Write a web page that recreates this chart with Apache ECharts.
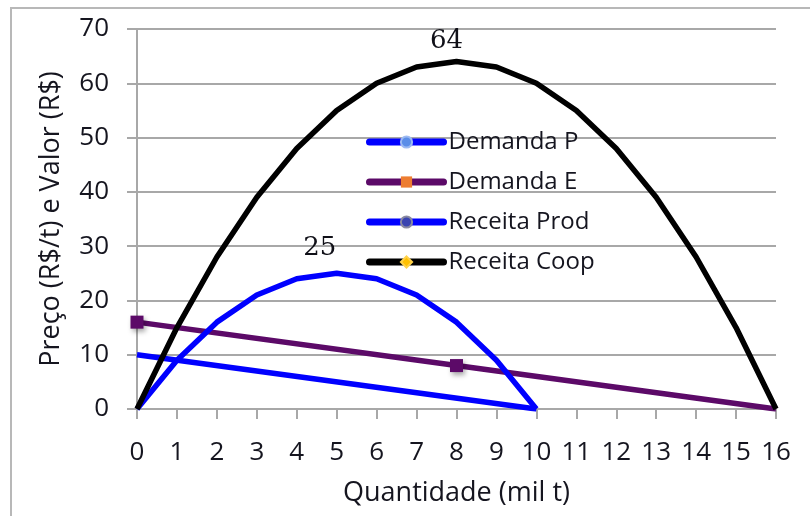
<!DOCTYPE html>
<html><head><meta charset="utf-8">
<script src="https://cdn.jsdelivr.net/npm/echarts@6/dist/echarts.min.js"></script>
<style>html,body{margin:0;padding:0;background:#fff}#c{width:810px;height:516px}</style>
</head><body><div id="c"></div>
<script>
// Data
const demandaP_x = [0, 10];
const demandaP_y = [10, 0];
const demandaE_x = [0, 8, 16];
const demandaE_y = [16, 8, 0];
const demandaE_marked = [true, true, false];
const receitaProd_x = [0, 1, 2, 3, 4, 5, 6, 7, 8, 9, 10];
const receitaProd_y = [0, 9, 16, 21, 24, 25, 24, 21, 16, 9, 0];
const receitaCoop_x = [0, 1, 2, 3, 4, 5, 6, 7, 8, 9, 10, 11, 12, 13, 14, 15, 16];
const receitaCoop_y = [0, 15, 28, 39, 48, 55, 60, 63, 64, 63, 60, 55, 48, 39, 28, 15, 0];
const xTicks = [0, 16, 1];
const yTicks = [0, 70, 10];

const FONT = '"Open Sans", sans-serif';
const TXT = '#15151f';
const GRID = '#a8a8a8';

function pairs(xs, ys) { return xs.map((x, i) => [x, ys[i]]); }
function peakItems(xs, ys, offset) {
  const mx = Math.max(...ys);
  return xs.map((x, i) => {
    if (ys[i] !== mx) return { value: [x, ys[i]], symbol: 'none' };
    return { value: [x, ys[i]], symbol: 'circle', symbolSize: 0.01,
      label: { show: true, formatter: String(ys[i]), position: 'top', distance: 5, offset: offset,
        fontFamily: '"DejaVu Serif", serif', fontSize: 26, color: '#101018' } };
  });
}

const chart = echarts.init(document.getElementById('c'), null, { renderer: 'canvas' });
chart.setOption({
  animation: false,
  backgroundColor: '#fff',
  graphic: [{ type: 'rect', shape: { x: 11, y: 8, width: 830, height: 540 }, style: { fill: 'none', stroke: '#b8b8b8', lineWidth: 2 }, silent: true }],
  grid: { left: 137, right: 34, top: 29, bottom: 107 },
  legend: {
    orient: 'vertical', left: 366, top: 129, padding: 0,
    itemWidth: 74, itemHeight: 14, itemGap: 14,
    lineStyle: { width: 7, cap: 'round' },
    textStyle: { fontFamily: FONT, fontSize: 24, color: TXT, lineHeight: 26 },
    data: ['Demanda P', 'Demanda E', 'Receita Prod', 'Receita Coop']
  },
  xAxis: {
    type: 'value', min: xTicks[0], max: xTicks[1], interval: xTicks[2],
    name: 'Quantidade (mil t)', nameLocation: 'middle', nameGap: 71,
    nameTextStyle: { fontFamily: FONT, fontSize: 27, color: TXT },
    axisLine: { show: true, onZero: false, lineStyle: { color: GRID, width: 2 } },
    axisTick: { show: true, length: 10, lineStyle: { color: GRID, width: 2 } },
    axisLabel: { fontFamily: FONT, fontSize: 26, color: TXT, margin: 31 },
    splitLine: { show: false }
  },
  yAxis: {
    type: 'value', min: yTicks[0], max: yTicks[1], interval: yTicks[2],
    name: 'Preço (R$/t) e Valor (R$)', nameLocation: 'middle', nameGap: 72,
    nameTextStyle: { fontFamily: FONT, fontSize: 27, color: TXT },
    axisLine: { show: true, lineStyle: { color: GRID, width: 2 } },
    axisTick: { show: true, length: 10, lineStyle: { color: GRID, width: 2 } },
    axisLabel: { fontFamily: FONT, fontSize: 26, color: TXT, margin: 28 },
    splitLine: { show: true, lineStyle: { color: GRID, width: 2 } }
  },
  series: [
    { name: 'Demanda P', type: 'line', data: pairs(demandaP_x, demandaP_y), showSymbol: false, symbol: 'circle',
      itemStyle: { color: '#5b8ee8', borderColor: '#9dbaf2', borderWidth: 1.5 },
      lineStyle: { color: '#0000ff', width: 5.5 }, z: 3 },
    { name: 'Demanda E', type: 'line', symbol: 'rect', symbolSize: 13, showSymbol: true,
      data: demandaE_x.map((x, i) => demandaE_marked[i]
        ? { value: [x, demandaE_y[i]], itemStyle: { color: '#5c0a68', shadowBlur: 5, shadowColor: 'rgba(0,0,0,0.35)', shadowOffsetX: 2, shadowOffsetY: 3 } }
        : { value: [x, demandaE_y[i]], symbol: 'none' }),
      itemStyle: { color: '#ed7d31' },
      lineStyle: { color: '#5c0a68', width: 5.5 }, z: 2 },
    { name: 'Receita Prod', type: 'line', data: peakItems(receitaProd_x, receitaProd_y, [-17, -6]), showSymbol: true, symbol: 'circle',
      itemStyle: { color: '#3a44b0', borderColor: '#8a8aa0', borderWidth: 1.5 },
      lineStyle: { color: '#0000ff', width: 5.5 }, z: 4 },
    { name: 'Receita Coop', type: 'line', data: peakItems(receitaCoop_x, receitaCoop_y, [-10, -2]), showSymbol: true, symbol: 'diamond',
      itemStyle: { color: '#ffc000', borderColor: '#ffd24a', borderWidth: 1 },
      lineStyle: { color: '#000000', width: 5.5 }, z: 5 }
  ]
});
</script></body></html>
